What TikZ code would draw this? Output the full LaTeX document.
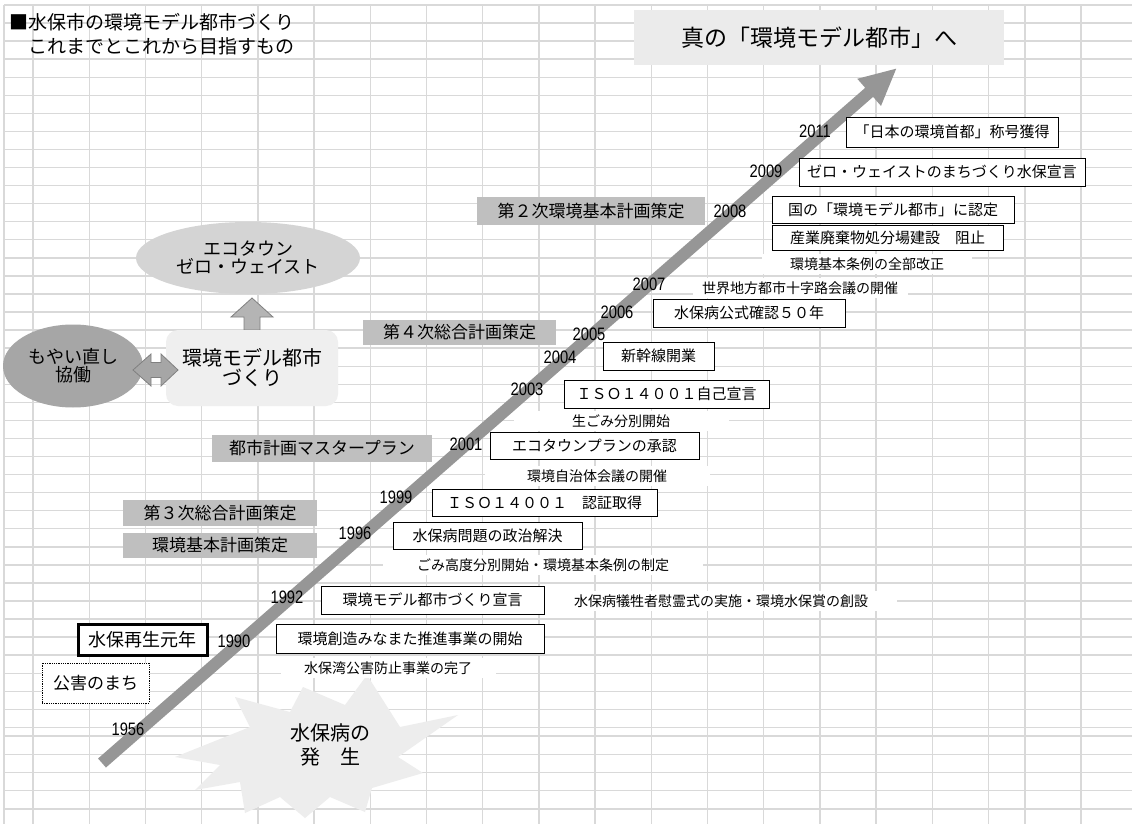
\documentclass[tikz,border=0pt]{standalone}
\usepackage{fontspec}
\setmainfont{Noto Sans CJK JP}
\newfontfamily\yearfont[FakeStretch=0.82]{Liberation Sans}
\usetikzlibrary{arrows.meta,shapes.geometric}

\definecolor{gridgray}{HTML}{D9D9D9}
\definecolor{bargray}{HTML}{BFBFBF}
\definecolor{arrowgray}{HTML}{969696}
\definecolor{titlegray}{HTML}{EBEBEB}
\definecolor{ellgray}{HTML}{D4D4D4}
\definecolor{darkgray}{HTML}{A6A6A6}
\definecolor{edgegray}{HTML}{808080}
\definecolor{boxgray}{HTML}{EFEFEF}
\definecolor{burstgray}{HTML}{EDEDED}

\newcommand{\setfs}[1]{\fontsize{#1}{#1}\selectfont}

\begin{document}
\begin{tikzpicture}[x=1pt,y=-1pt]

	\tikzstyle{gridline}=[gridgray,line width=1.4pt]
	\tikzstyle{event}=[draw,line width=0.9pt,fill=white,font=\setfs{15},inner sep=0pt]
	\tikzstyle{plan}=[fill=bargray,font=\setfs{17},inner sep=0pt]
	\tikzstyle{note}=[fill=white,font=\setfs{14},inner sep=0pt,minimum height=20pt]
	\tikzstyle{year}=[font=\yearfont\setfs{18},inner sep=0pt]

	\useasboundingbox (0,0) rectangle (1132,824);
	\fill[white] (0,0) rectangle (1132,824);

	% sheet grid
	\foreach \k in {0,...,40}
		\draw[gridline] (4,{5+18.06*\k}) -- (1132,{5+18.06*\k});
	\foreach \y in {736,754.2,772.4,790.6,808.8}
		\draw[gridline] (4,\y) -- (1132,\y);
	\foreach \k in {0,...,17}
		\draw[gridline] ({33+56.2*\k},5) -- ({33+56.2*\k},824);
	\foreach \x in {4,1025,1081}
		\draw[gridline] (\x,5) -- (\x,824);

	% burst
	\fill[burstgray] (367,675) -- (345,705) -- (303,687) -- (290,712) -- (235,697)
		-- (250,727) -- (175,757) -- (220,765) -- (195,790) -- (240,782) -- (245,813)
		-- (280,797) -- (305,818) -- (330,797) -- (365,812) -- (372,788) -- (423,773)
		-- (398,757) -- (458,715) -- (400,727) -- cycle;
	\node[font=\setfs{20},align=center,inner sep=0pt] (hassei) at (330,745) {水保病の\\[4pt]発　生};

	% time line
	\coordinate (start) at (102,763);
	\coordinate (goal) at (897,68);
	\draw[arrowgray,line width=12pt,-{Triangle[width=33pt,length=37pt]}] (start) -- (goal);

	\node[anchor=west,font=\setfs{19},inner sep=0pt] (head1) at (9,22) {■水保市の環境モデル都市づくり};
	\node[anchor=west,font=\setfs{19},inner sep=0pt] (head2) at (28,46) {これまでとこれから目指すもの};

	\node[fill=titlegray,font=\setfs{23},minimum width=370,minimum height=55] (aim) at (819,37.5) {真の「環境モデル都市」へ};

	% events
	\node[event,minimum width=212,minimum height=30] (e2011) at (952,132) {「日本の環境首都」称号獲得};
	\node[event,minimum width=286,minimum height=28] (e2009) at (942,172) {ゼロ・ウェイストのまちづくり水保宣言};
	\node[event,minimum width=242,minimum height=27] (e2008a) at (893,209.5) {国の「環境モデル都市」に認定};
	\node[event,minimum width=231,minimum height=25] (e2008b) at (887.5,237.5) {産業廃棄物処分場建設　阻止};
	\node[note,minimum width=210] (e2008c) at (867,264) {環境基本条例の全部改正};
	\node[note,minimum width=215] (e2007) at (800,288) {世界地方都市十字路会議の開催};
	\node[event,minimum width=192,minimum height=28] (e2006) at (749,313) {水保病公式確認５０年};
	\node[event,minimum width=111,minimum height=28] (e2004) at (658.5,356) {新幹線開業};
	\node[event,minimum width=205,minimum height=28] (e2003a) at (666.5,394) {ＩＳＯ１４００１自己宣言};
	\node[note,minimum width=215] (e2003b) at (621,421) {生ごみ分別開始};
	\node[event,minimum width=209,minimum height=27] (e2001a) at (594.5,446) {エコタウンプランの承認};
	\node[note,minimum width=225] (e2001b) at (597,476) {環境自治体会議の開催};
	\node[event,minimum width=225,minimum height=27] (e1999) at (544.5,502.5) {ＩＳＯ１４００１　認証取得};
	\node[event,minimum width=189,minimum height=27] (e1996a) at (487.5,535.5) {水保病問題の政治解決};
	\node[note,minimum width=320] (e1996b) at (543,565) {ごみ高度分別開始・環境基本条例の制定};
	\node[event,minimum width=223,minimum height=28] (e1992a) at (432.5,600) {環境モデル都市づくり宣言};
	\node[note,minimum width=352] (e1992b) at (721,601) {水保病犠牲者慰霊式の実施・環境水保賞の創設};
	\node[event,minimum width=268,minimum height=29] (e1990a) at (410,638.5) {環境創造みなまた推進事業の開始};
	\node[note,minimum width=215] (e1990b) at (388,668) {水保湾公害防止事業の完了};

	% plans
	\node[plan,minimum width=228,minimum height=28] (p2008) at (591,211) {第２次環境基本計画策定};
	\node[plan,minimum width=193,minimum height=25] (p2005) at (459.5,332.5) {第４次総合計画策定};
	\node[plan,minimum width=220,minimum height=27] (p2001) at (322,448.5) {都市計画マスタープラン};
	\node[plan,minimum width=194,minimum height=26] (p1996a) at (220,513) {第３次総合計画策定};
	\node[plan,minimum width=194,minimum height=25] (p1996b) at (220,545.5) {環境基本計画策定};

	\node[draw,line width=3pt,fill=white,font=\setfs{18},minimum width=129,minimum height=31] (saisei) at (142.5,639.5) {水保再生元年};
	\node[draw,densely dotted,line width=0.8pt,fill=white,font=\setfs{17},minimum width=107,minimum height=40] (kougai) at (95.5,683) {公害のまち};

	% years
	\node[year] (y2011) at (815,131.5) {2011};
	\node[year] (y2009) at (766,171) {2009};
	\node[year] (y2008) at (730,211) {2008};
	\node[year] (y2007) at (649,284) {2007};
	\node[year] (y2006) at (617,312) {2006};
	\node[year] (y2005) at (589,334) {2005};
	\node[year] (y2004) at (560,357) {2004};
	\node[year] (y2003) at (527,389) {2003};
	\node[year] (y2001) at (466,444) {2001};
	\node[year] (y1999) at (396,497) {1999};
	\node[year] (y1996) at (355,533) {1996};
	\node[year] (y1992) at (287,597) {1992};
	\node[year] (y1990) at (234,641) {1990};
	\node[year] (y1956) at (128,729) {1956};

	% concept
	\node[ellipse,fill=ellgray,font=\setfs{18},align=center,minimum width=224,minimum height=72,inner sep=0pt] (eco) at (248,258) {エコタウン\\ゼロ・ウェイスト};
	\filldraw[fill=ellgray!85!black,draw=edgegray,line width=0.8pt] (244,330) -- (244,317) -- (231,317) -- (252,298)
		-- (273,317) -- (260,317) -- (260,330) -- cycle;
	\node[rectangle,rounded corners=12pt,fill=boxgray,font=\setfs{20},align=center,minimum width=172,minimum height=76,inner sep=0pt] (model) at (252,368) {環境モデル都市\\づくり};
	\node[ellipse,fill=darkgray,font=\setfs{18},align=center,minimum width=140,minimum height=83,inner sep=0pt] (moyai) at (73,366) {もやい直し\\協働};
	\filldraw[fill=darkgray,draw=edgegray,line width=0.8pt] (133,370) -- (151,354) -- (151,362.5) -- (161,362.5) -- (161,354)
		-- (178,370) -- (161,386) -- (161,377.5) -- (151,377.5) -- (151,386) -- cycle;

\end{tikzpicture}
\end{document}
